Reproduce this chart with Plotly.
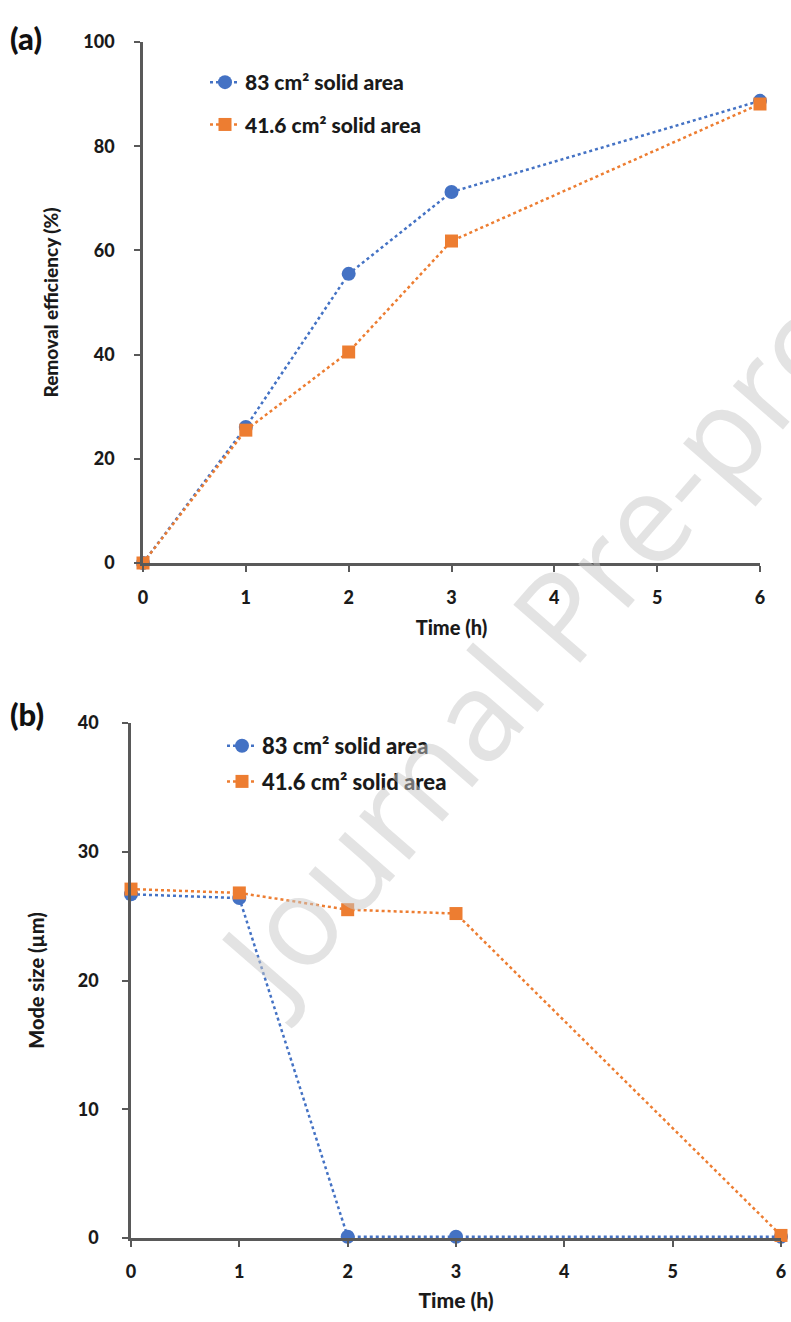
import plotly.graph_objects as go

W, H = 791, 1322

time_h = [0, 1, 2, 3, 6]
x_ticks = [0, 1, 2, 3, 4, 5, 6]

# (a) Removal efficiency (%)
removal_83 = [0, 26.1, 55.5, 71.2, 88.7]
removal_416 = [0, 25.5, 40.5, 61.8, 88.1]

# (b) Mode size (um)
mode_83 = [26.7, 26.4, 0.1, 0.1, 0.1]
mode_416 = [27.1, 26.8, 25.5, 25.2, 0.2]

name_83 = "83 cm² solid area"
name_416 = "41.6 cm² solid area"

BLUE = "#4472C4"
ORANGE = "#ED7D31"
AX = "#595959"
FONT = "Lato"

def px_x(p):
    return p / W

def px_y(p):
    return 1 - p / H

fig = go.Figure()

def add(x, y, name, color, symbol, size, xa, ya, legend, group):
    fig.add_trace(go.Scatter(
        x=x, y=y, name=name, mode="lines+markers",
        line=dict(color=color, width=2.5, dash="dot"),
        marker=dict(color=color, symbol=symbol, size=size),
        xaxis=xa, yaxis=ya, legend=legend, legendgroup=group,
        cliponaxis=False,
    ))

add(time_h, removal_83, name_83, BLUE, "circle", 14, "x", "y", "legend", "a1")
add(time_h, removal_416, name_416, ORANGE, "square", 13, "x", "y", "legend", "a2")
add(time_h, mode_83, name_83, BLUE, "circle", 14, "x2", "y2", "legend2", "b1")
add(time_h, mode_416, name_416, ORANGE, "square", 13, "x2", "y2", "legend2", "b2")

axis_common = dict(
    showline=True, linecolor=AX, linewidth=2.5, showgrid=False, zeroline=False,
    ticks="outside", ticklen=6, tickwidth=2, tickcolor=AX,
    tickfont=dict(family=FONT, size=18, color="#1a1a1a", weight=900),
)

fig.update_layout(
    width=W, height=H,
    margin=dict(l=0, r=0, t=0, b=0, autoexpand=False),
    paper_bgcolor="white", plot_bgcolor="white",
    font=dict(family=FONT, color="#1a1a1a"),
    xaxis=dict(domain=[px_x(143), px_x(760)], range=[0, 6], tickvals=x_ticks,
               anchor="y", ticklabelstandoff=11,
               title=dict(text="Time (h)", standoff=14,
                          font=dict(family=FONT, size=20, weight=900)),
               **axis_common),
    yaxis=dict(domain=[px_y(563), px_y(42)], range=[0, 100], tickvals=[0, 20, 40, 60, 80, 100],
               anchor="x", ticklabelstandoff=16,
               title=dict(text="Removal efficiency (%)", standoff=20,
                          font=dict(family=FONT, size=19, weight=900)),
               **axis_common),
    xaxis2=dict(domain=[px_x(131), px_x(781)], range=[0, 6], tickvals=x_ticks,
                anchor="y2", ticklabelstandoff=10,
                title=dict(text="Time (h)", standoff=12,
                           font=dict(family=FONT, size=21, weight=900)),
                **axis_common),
    yaxis2=dict(domain=[px_y(1238), px_y(723)], range=[0, 40], tickvals=[0, 10, 20, 30, 40],
                anchor="x2", ticklabelstandoff=20,
                title=dict(text="Mode size (µm)", standoff=28,
                           font=dict(family=FONT, size=20, weight=900)),
                **axis_common),
    legend=dict(x=px_x(205), y=px_y(62), xanchor="left", yanchor="top",
                bgcolor="rgba(0,0,0,0)", traceorder="grouped", tracegroupgap=12,
                font=dict(family=FONT, size=21, weight=900, color="#1a1a1a")),
    legend2=dict(x=px_x(222), y=px_y(725), xanchor="left", yanchor="top",
                 bgcolor="rgba(0,0,0,0)", traceorder="grouped", tracegroupgap=4,
                 font=dict(family=FONT, size=22, weight=900, color="#1a1a1a")),
    showlegend=True,
)

fig.add_annotation(text="(a)", x=px_x(8), y=px_y(38), xref="paper", yref="paper",
                   xanchor="left", yanchor="middle", showarrow=False,
                   font=dict(family=FONT, size=31, weight=900, color="#111"))
fig.add_annotation(text="(b)", x=px_x(8), y=px_y(714), xref="paper", yref="paper",
                   xanchor="left", yanchor="middle", showarrow=False,
                   font=dict(family=FONT, size=31, weight=900, color="#111"))

# watermark
fig.add_annotation(text="Journal Pre-proof", x=px_x(570), y=px_y(600), xref="paper", yref="paper",
                   xanchor="center", yanchor="middle", showarrow=False, textangle=-49,
                   font=dict(family="Open Sans", size=124, weight=400, color="rgba(200,200,200,0.5)"))

fig.write_html("out.html")
